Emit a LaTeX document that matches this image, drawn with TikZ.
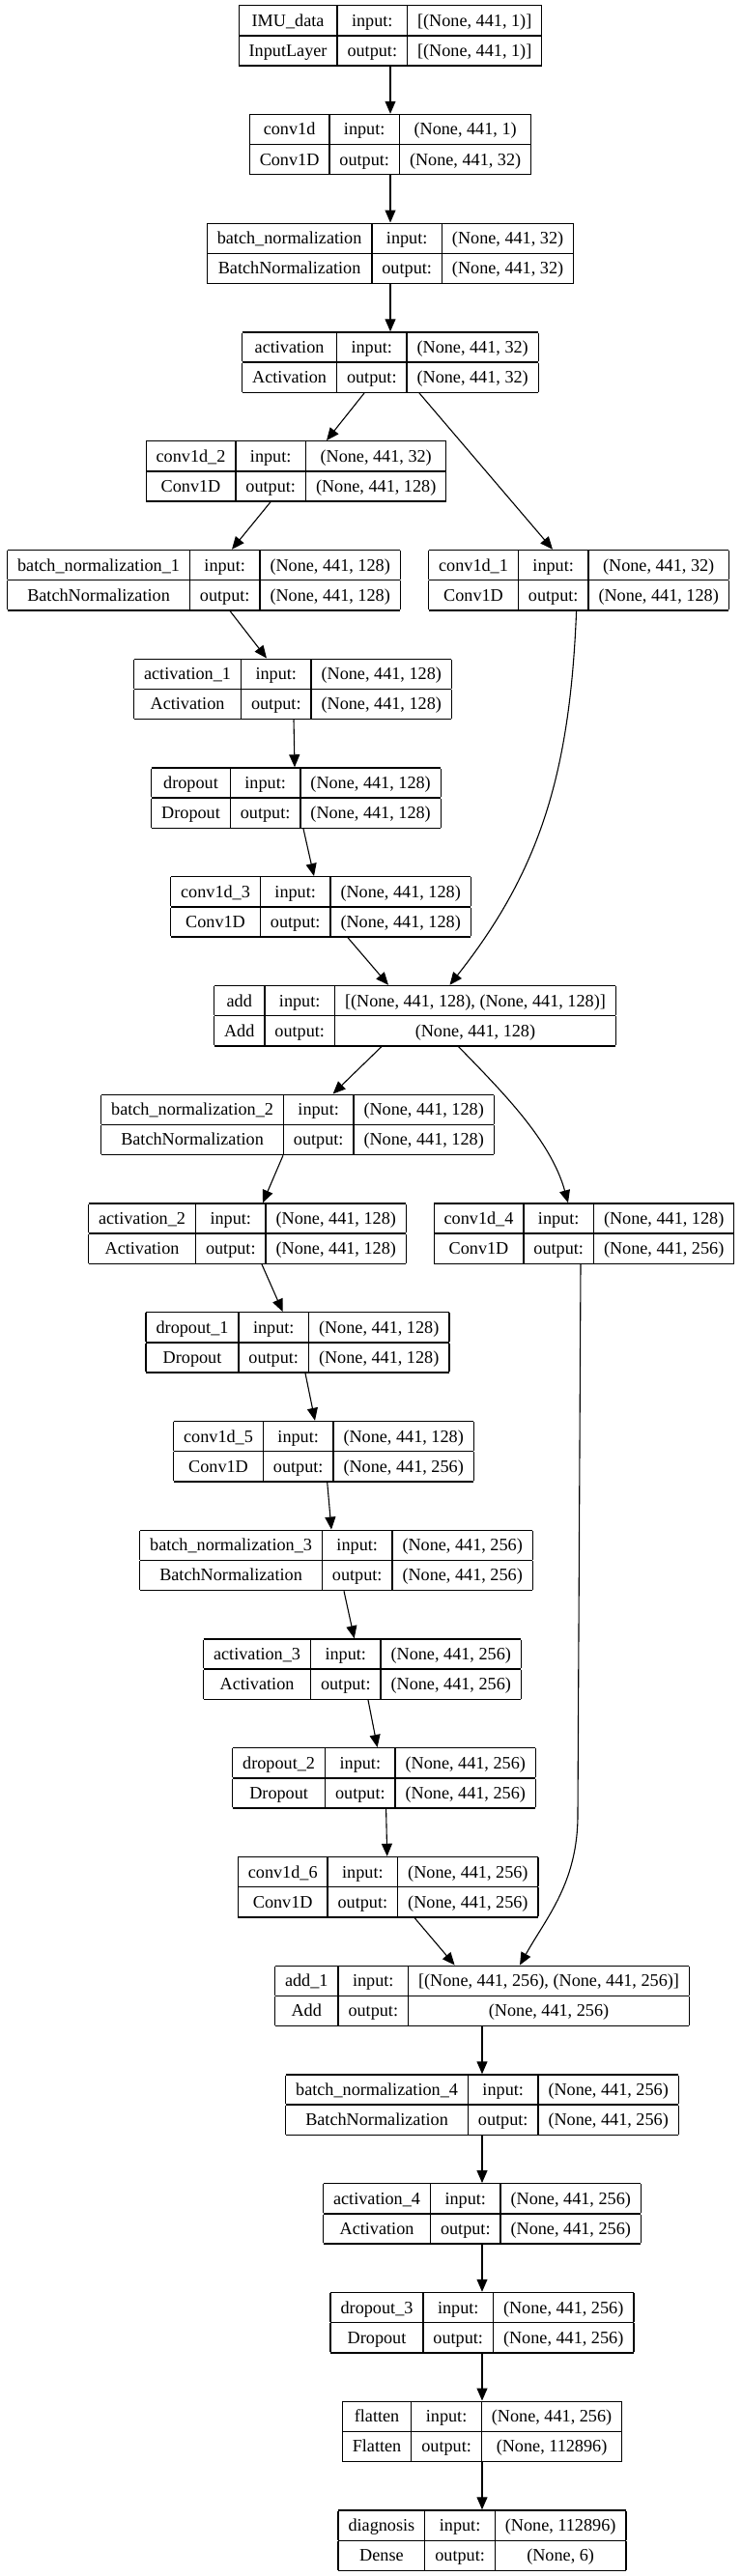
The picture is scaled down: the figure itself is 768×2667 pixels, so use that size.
\documentclass[tikz,border=0pt]{standalone}
\usepackage{fontspec}
\setmainfont{Liberation Serif}
\usepackage{tikz}
\usetikzlibrary{arrows.meta}
\setlength{\tabcolsep}{10.5pt}
\setlength{\arrayrulewidth}{1.3pt}
\renewcommand{\arraystretch}{1.36}
\newcommand{\layerbox}[4]{%
  \begin{tabular}{|c|c|c|}\hline
    #1 & input: & #3\\\hline
    #2 & output: & #4\\\hline
  \end{tabular}}
\tikzset{
  layer/.style={inner sep=0pt, outer sep=0pt, anchor=north,
                font=\fontsize{18.2}{22}\selectfont},
  link/.style={-{Triangle[length=13pt, width=11pt]}, line width=1.1pt},
}
\begin{document}
\begin{tikzpicture}[x=1pt,y=-1pt]
    \useasboundingbox (0,0) rectangle (768,2667);

    %% ---------- entrada e primeiro bloco ----------
    \node[layer] (lyIn)    at (404,5)       {\layerbox{IMU\_data}{InputLayer}{[(None, 441, 1)]}{[(None, 441, 1)]}};
    \node[layer] (lyConv)  at (404,117.75)  {\layerbox{conv1d}{Conv1D}{(None, 441, 1)}{(None, 441, 32)}};
    \node[layer] (lyBn)    at (404,230.5)   {\layerbox{batch\_normalization}{BatchNormalization}{(None, 441, 32)}{(None, 441, 32)}};
    \node[layer] (lyAct)   at (404,343.25)  {\layerbox{activation}{Activation}{(None, 441, 32)}{(None, 441, 32)}};

    %% ---------- bloco residual 1 ----------
    \node[layer] (lyConv2) at (306.5,456)   {\layerbox{conv1d\_2}{Conv1D}{(None, 441, 32)}{(None, 441, 128)}};
    \node[layer] (lyBn1)   at (211,568.75)  {\layerbox{batch\_normalization\_1}{BatchNormalization}{(None, 441, 128)}{(None, 441, 128)}};
    \node[layer] (lyConv1) at (599,568.75)  {\layerbox{conv1d\_1}{Conv1D}{(None, 441, 32)}{(None, 441, 128)}};
    \node[layer] (lyAct1)  at (303,681.5)   {\layerbox{activation\_1}{Activation}{(None, 441, 128)}{(None, 441, 128)}};
    \node[layer] (lyDrop)  at (306.5,794.25){\layerbox{dropout}{Dropout}{(None, 441, 128)}{(None, 441, 128)}};
    \node[layer] (lyConv3) at (332,907)     {\layerbox{conv1d\_3}{Conv1D}{(None, 441, 128)}{(None, 441, 128)}};
    \node[layer] (lyAdd)   at (429.5,1019.75){\layerbox{add}{Add}{[(None, 441, 128), (None, 441, 128)]}{(None, 441, 128)}};

    %% ---------- bloco residual 2 ----------
    \node[layer] (lyBn2)   at (308,1132.5)  {\layerbox{batch\_normalization\_2}{BatchNormalization}{(None, 441, 128)}{(None, 441, 128)}};
    \node[layer] (lyAct2)  at (256,1245.25) {\layerbox{activation\_2}{Activation}{(None, 441, 128)}{(None, 441, 128)}};
    \node[layer] (lyConv4) at (604.5,1245.25){\layerbox{conv1d\_4}{Conv1D}{(None, 441, 128)}{(None, 441, 256)}};
    \node[layer] (lyDrop1) at (308,1358)    {\layerbox{dropout\_1}{Dropout}{(None, 441, 128)}{(None, 441, 128)}};
    \node[layer] (lyConv5) at (335,1470.75) {\layerbox{conv1d\_5}{Conv1D}{(None, 441, 128)}{(None, 441, 256)}};
    \node[layer] (lyBn3)   at (348,1583.5)  {\layerbox{batch\_normalization\_3}{BatchNormalization}{(None, 441, 256)}{(None, 441, 256)}};
    \node[layer] (lyAct3)  at (375,1696.25) {\layerbox{activation\_3}{Activation}{(None, 441, 256)}{(None, 441, 256)}};
    \node[layer] (lyDrop2) at (397.6,1809)  {\layerbox{dropout\_2}{Dropout}{(None, 441, 256)}{(None, 441, 256)}};
    \node[layer] (lyConv6) at (401.7,1921.75){\layerbox{conv1d\_6}{Conv1D}{(None, 441, 256)}{(None, 441, 256)}};
    \node[layer] (lyAdd1)  at (499,2034.5)  {\layerbox{add\_1}{Add}{[(None, 441, 256), (None, 441, 256)]}{(None, 441, 256)}};

    %% ---------- saida ----------
    \node[layer] (lyBn4)   at (499,2147.25) {\layerbox{batch\_normalization\_4}{BatchNormalization}{(None, 441, 256)}{(None, 441, 256)}};
    \node[layer] (lyAct4)  at (499,2260)    {\layerbox{activation\_4}{Activation}{(None, 441, 256)}{(None, 441, 256)}};
    \node[layer] (lyDrop3) at (499,2372.75) {\layerbox{dropout\_3}{Dropout}{(None, 441, 256)}{(None, 441, 256)}};
    \node[layer] (lyFlat)  at (499,2485.5)  {\layerbox{flatten}{Flatten}{(None, 441, 256)}{(None, 112896)}};
    \node[layer] (lyDiag)  at (499,2598.25) {\layerbox{diagnosis}{Dense}{(None, 112896)}{(None, 6)}};

    %% ---------- ligacoes ----------
    \foreach \a/\b in {lyIn/lyConv,lyConv/lyBn,lyBn/lyAct,lyAdd1/lyBn4,lyBn4/lyAct4,
                       lyAct4/lyDrop3,lyDrop3/lyFlat,lyFlat/lyDiag}
      \draw[link] (\a) -- (\b);
    \foreach \a/\da/\b/\db in {lyAct/-27/lyConv2/31.5, lyAct/30/lyConv1/-27,
                               lyConv2/-26.5/lyBn1/29, lyBn1/27/lyAct1/-27,
                               lyAct1/1/lyDrop/-1.5, lyDrop/7.5/lyConv3/-7,
                               lyConv3/28/lyAdd/-27.5, lyAdd/-34.5/lyBn2/36.6,
                               lyBn2/-15/lyAct2/16, lyAct2/15/lyDrop1/-15.4,
                               lyDrop1/8/lyConv5/-9, lyConv5/3.7/lyBn3/-5,
                               lyBn3/8/lyAct3/-8.3, lyAct3/6/lyDrop2/-7,
                               lyDrop2/2/lyConv6/-1, lyConv6/27.3/lyAdd1/-28.4}
      \draw[link] ([xshift=\da]\a.south) -- ([xshift=\db]\b.north);

    %% atalhos (skip connections)
    \draw[link] ([xshift=-2.4]lyConv1.south) .. controls +(-6.6,167) and +(94,-119) .. ([xshift=36]lyAdd.north);
    \draw[link] ([xshift=45]lyAdd.south) .. controls +(45.5,47) and +(-18,-65) .. ([xshift=-16.5]lyConv4.north);
    \draw[link] ([xshift=-3.5]lyConv4.south) -- ++(-3,570) .. controls +(0,70) and +(28,-50) .. ([xshift=39]lyAdd1.north);

\end{tikzpicture}
\end{document}
